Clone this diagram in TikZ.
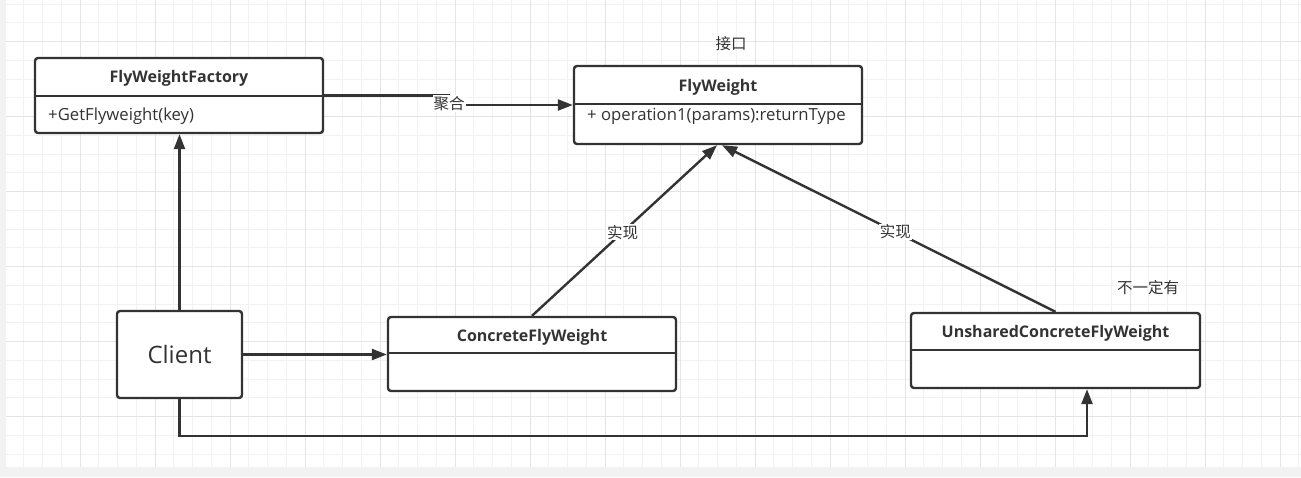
\documentclass[tikz,border=0pt]{standalone}
\usepackage{fontspec}
\setmainfont{Open Sans}
\newfontfamily\cjk{Noto Sans CJK SC}
\usetikzlibrary{arrows.meta}
\definecolor{ink}{HTML}{333333}
\definecolor{gridminor}{HTML}{F2F2F2}
\definecolor{gridmajor}{HTML}{E4E4E4}
\definecolor{strip}{HTML}{F2F2F2}
\begin{document}
\begin{tikzpicture}[x=1pt,y=-1pt,
  classbox/.style={draw=ink, line width=2.4pt, rounded corners=3pt, fill=white, inner sep=0pt},
  divider/.style={draw=ink, line width=2.2pt},
  titletext/.style={text=ink, font=\fontsize{16}{18}\selectfont\bfseries, inner sep=0pt},
  methodtext/.style={text=ink, font=\fontsize{16.7}{19}\selectfont, inner sep=0pt, anchor=west},
  cjktext/.style={text=ink, font=\fontsize{15.5}{18}\selectfont\cjk, inner sep=1pt},
  conn/.style={draw=ink, line width=2.4pt, -{Triangle[length=15pt,width=11pt]}},
  lbl/.style={text=ink, font=\fontsize{15.5}{18}\selectfont\cjk, fill=white, inner sep=1pt}
]
\useasboundingbox (0,0) rectangle (1301,477);
\fill[white] (0,0) rectangle (1301,477);
% grid
\foreach \i in {1,...,69} { \draw[gridminor, line width=1pt] ({5+18.75*\i},0) -- ({5+18.75*\i},467); }
\foreach \j in {0,...,24} { \draw[gridminor, line width=1pt] (6,{4.2+18.75*\j}) -- (1301,{4.2+18.75*\j}); }
\foreach \k in {1,...,17} { \draw[gridmajor, line width=1pt] ({5+75*\k},0) -- ({5+75*\k},467); }
\foreach \k in {0,...,5} { \draw[gridmajor, line width=1pt] (6,{41.7+75*\k}) -- (1301,{41.7+75*\k}); }
\fill[strip] (0,467) rectangle (1301,477);
\fill[strip] (0,0) rectangle (6,467);

% boxes
\node[classbox, minimum width=288pt, minimum height=75pt] (fac) at (179,95.5) {};
\draw[divider] (fac.west |- 0,96) -- (fac.east |- 0,96);
\node[titletext] (facT) at (179,78.5) {FlyWeightFactory};
\node[methodtext] (facM) at (48,116.5) {+GetFlyweight(key)};

\node[classbox, minimum width=288pt, minimum height=78pt] (fw) at (718,105) {};
\draw[divider] (fw.west |- 0,104) -- (fw.east |- 0,104);
\node[titletext] (fwT) at (718,87.5) {FlyWeight};
\node[methodtext] (fwM) at (587,116.5) {+ operation1(params):returnType};

\node[classbox, minimum width=288pt, minimum height=74pt] (conc) at (532,354) {};
\draw[divider] (conc.west |- 0,353) -- (conc.east |- 0,353);
\node[titletext] (concT) at (532,337.5) {ConcreteFlyWeight};

\node[classbox, minimum width=289pt, minimum height=75pt] (uns) at (1055.5,350.5) {};
\draw[divider] (uns.west |- 0,350) -- (uns.east |- 0,350);
\node[titletext] (unsT) at (1055.5,333.5) {UnsharedConcreteFlyWeight};

\node[classbox, minimum width=125pt, minimum height=87pt, text=ink, font=\fontsize{24}{28}\selectfont] (client) at (179.5,354.5) {Client};

% free texts
\node[cjktext] (iface) at (731,44) {接口};
\node[cjktext] (opt) at (1148,288) {不一定有};

% connectors
\coordinate (bend) at (449,100);
\draw[conn] (fac.east) -| (bend) |- (fw.west);
\node[lbl] (aggl) at (449,103.5) {聚合};

\draw[conn] (client.north) -- (client.north |- fac.south);
\draw[conn] (client.east) -- (client.east -| conc.west);

\draw[conn] (conc.north) -- node[lbl, pos=0.49] (r1) {实现} ([xshift=-1pt]fw.south);
\draw[conn] (uns.north) -- node[lbl, pos=0.48] (r2) {实现} ([xshift=4pt]fw.south);

\coordinate (turn) at (1087,436);
\draw[conn] (client.south) |- (turn) -- (turn |- uns.south);
\end{tikzpicture}
\end{document}
